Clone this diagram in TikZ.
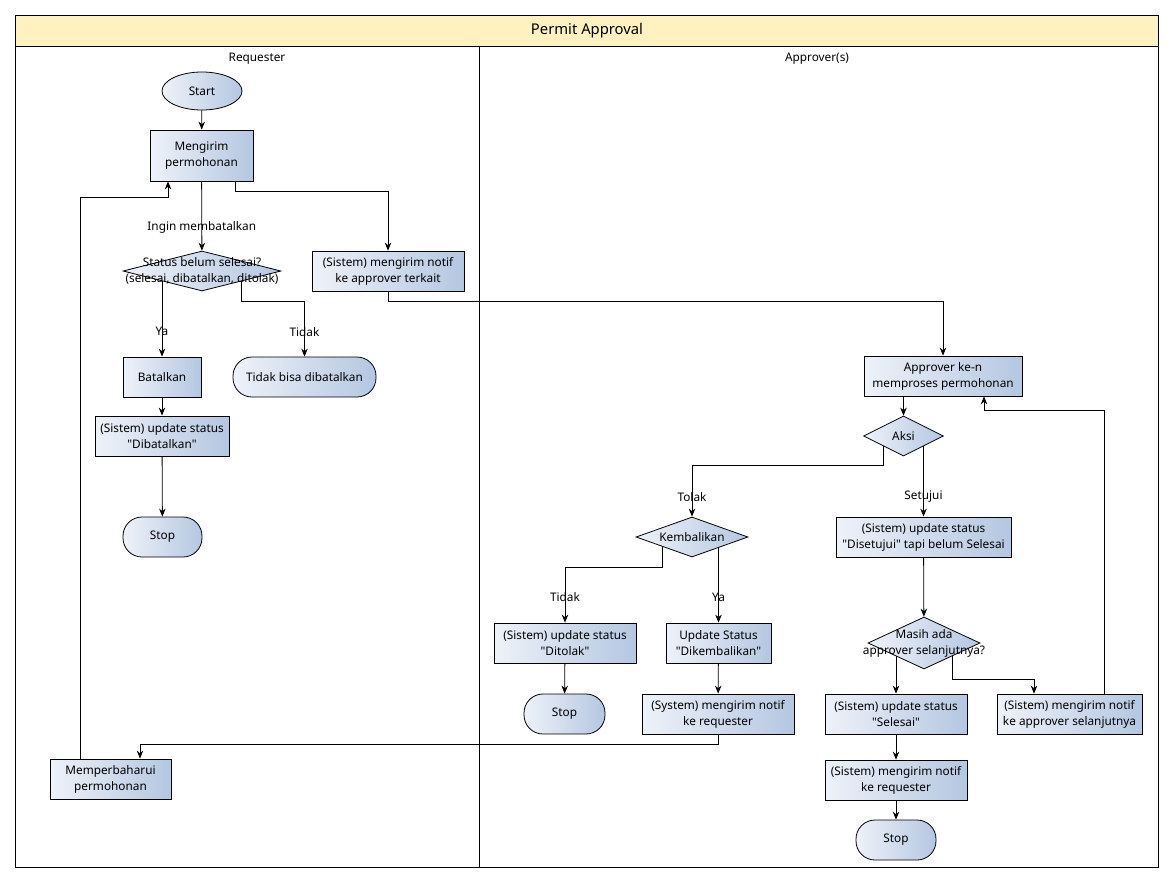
\documentclass[tikz,border=0pt]{standalone}
\usepackage{fontspec}
\setmainfont{Noto Sans}
\usetikzlibrary{calc,positioning,shapes.geometric,arrows.meta}
\definecolor{hdrfill}{HTML}{FFF2C0}
\definecolor{boxL}{HTML}{EEF2F9}
\definecolor{boxR}{HTML}{B4C7E1}
\newcommand{\qt}[1]{\textquotedbl#1\textquotedbl}

\begin{document}
\begin{tikzpicture}[x=1pt, y=-1pt, font=\fontsize{11.8}{16}\selectfont,
        >={Stealth[length=8pt, width=6.5pt]},
        flow/.style={draw, line width=0.8pt, left color=boxL, right color=boxR, inner sep=0pt, align=center},
        box/.style={flow, rectangle, minimum height=40},
        terminal/.style={flow, rectangle, rounded corners=19pt, minimum height=40},
        decision/.style={flow, diamond, minimum height=40},
        inside/.style={label={[align=center]center:#1}},
        lbl/.style={fill=none, inner sep=1pt}]
    \useasboundingbox (0,0) rectangle (1174,883);

    % swimlanes
    \draw[line width=0.8pt, fill=hdrfill] (15,15) rectangle (1158,46);
    \draw[line width=0.8pt] (15,46) rectangle (1158,867);
    \draw[line width=0.8pt] (479,46) -- (479,867);
    \node (title) at (587,31) {\fontsize{14.8}{18}\selectfont Permit Approval};
    \node (laneReq) at (257,59) {Requester};
    \node (laneApp) at (817,59) {Approver(s)};

    % requester
    \node[flow, ellipse, minimum width=80, minimum height=38] at (202,91) (start) {Start};
    \node[box, minimum width=103, minimum height=51] at (201.5,155.5) (kirim) {Mengirim\\permohonan};
    \node[decision, minimum width=158, inside={Status belum selesai?\\(selesai, dibatalkan, ditolak)}] at (202,271) (cekStatus) {};
    \node[box, minimum width=152] at (388,271) (notifAppr) {(Sistem) mengirim notif\\ke approver terkait};
    \node[box, minimum width=78] at (162,377) (batal) {Batalkan};
    \node[terminal, minimum width=143] at (304.5,377) (tidakBisa) {Tidak bisa dibatalkan};
    \node[box, minimum width=134] at (162,436) (updBatal) {(Sistem) update status\\\qt{Dibatalkan}};
    \node[terminal, minimum width=79] at (162.5,537) (stopReq) {Stop};
    \node[box, minimum width=121] at (110.5,779) (perbarui) {Memperbaharui\\permohonan};

    % approver
    \node[box, minimum width=158] at (943,376) (proses) {Approver ke-n\\memproses permohonan};
    \node[decision, minimum width=80, inside={Aksi}] at (903.5,436) (aksi) {};
    \node[decision, minimum width=112, inside={Kembalikan}] at (692,537) (kembali) {};
    \node[box, minimum width=175] at (923.5,537) (setuju) {(Sistem) update status\\\qt{Disetujui} tapi belum Selesai};
    \node[box, minimum width=142] at (565,643) (tolak) {(Sistem) update status\\\qt{Ditolak}};
    \node[box, minimum width=105] at (718.5,643) (updKembali) {Update Status\\\qt{Dikembalikan}};
    \node[decision, minimum width=112, minimum height=52, inside={Masih ada\\approver selanjutnya?}] at (924,643) (masih) {};
    \node[terminal, minimum width=81] at (564.5,714) (stopTolak) {Stop};
    \node[box, minimum width=152] at (718,714) (notifReqK) {(System) mengirim notif\\ke requester};
    \node[box, minimum width=142] at (896,714) (selesai) {(Sistem) update status\\\qt{Selesai}};
    \node[box, minimum width=145] at (1069.5,714) (notifNext) {(Sistem) mengirim notif\\ke approver selanjutnya};
    \node[box, minimum width=142] at (896,780) (notifReq) {(Sistem) mengirim notif\\ke requester};
    \node[terminal, minimum width=80] at (896,840) (stopApp) {Stop};

    % connectors
    \begin{scope}[line width=0.8pt]
        \draw[->] (start) -- (kirim);
        \draw[->] (kirim) -- node[lbl, pos=0.66] {Ingin membatalkan} (cekStatus);
        \draw[->] ($(kirim.south)+(34,0)$) -- ++(0,10) -| (notifAppr.north);
        \draw[->] ($(cekStatus)+(-40,10)$) -- node[lbl, pos=0.66] {Ya} (batal.north);
        \draw[->] ($(cekStatus)+(39,10)$) -- ++(0,20) -| node[lbl, pos=0.78] {Tidak} (tidakBisa.north);
        \draw[->] (batal) -- (updBatal);
        \draw[->] (updBatal) -- (stopReq);
        \draw[->] ($(perbarui.north)+(-30.5,0)$) |- ($(kirim.south)+(-33.5,16)$) -- ($(kirim.south)+(-33.5,0)$);
        \draw[->] (notifAppr.south) -- ++(0,10) -| (proses.north);
        \draw[->] (aksi.north |- proses.south) -- (aksi.north);
        \draw[->] ($(aksi)+(-20,10)$) -- ++(0,19) -| node[lbl, pos=0.81] {Tolak} (kembali.north);
        \draw[->] ($(aksi)+(20,10)$) -- node[lbl, pos=0.72] {Setujui} (setuju.north);
        \draw[->] ($(kembali)+(-30,10)$) -- ++(0,20) -| node[lbl, pos=0.77] {Tidak} (tolak.north);
        \draw[->] ($(kembali)+(26.5,10)$) -- node[lbl, pos=0.66] {Ya} (updKembali.north);
        \draw[->] (tolak) -- (stopTolak);
        \draw[->] (updKembali) -- (notifReqK);
        \draw[->] (notifReqK.south) -- ++(0,10) -| ($(perbarui.north)+(29.5,0)$);
        \draw[->] (setuju) -- (masih);
        \draw[->] ($(masih)+(-28,13)$) -- (selesai.north);
        \draw[->] ($(masih)+(28,13)$) -- ++(0,23) -| ($(notifNext.north)+(-35.5,0)$);
        \draw[->] ($(notifNext.north)+(34.5,0)$) |- ($(proses.south)+(41,14)$) -- ($(proses.south)+(41,0)$);
        \draw[->] (selesai) -- (notifReq);
        \draw[->] (notifReq) -- (stopApp);
    \end{scope}
\end{tikzpicture}
\end{document}
